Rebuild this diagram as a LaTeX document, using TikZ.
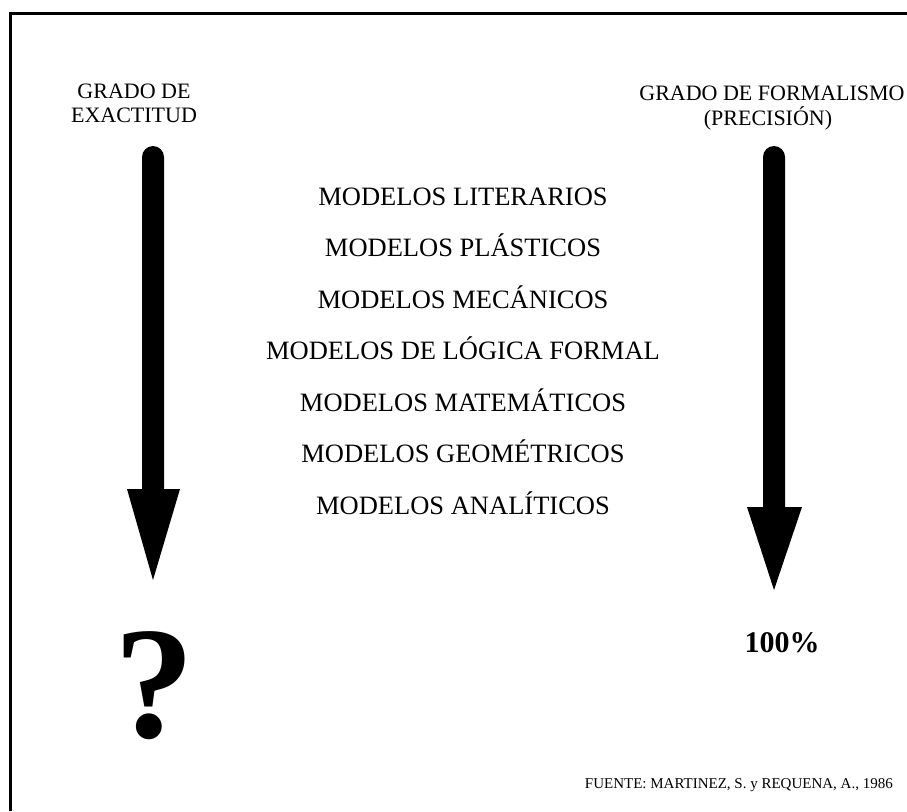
\documentclass[tikz,border=0pt]{standalone}
\usepackage{fontspec}
\setmainfont{Liberation Serif}
\begin{document}
\begin{tikzpicture}[x=1pt,y=-1pt,
  txt/.style={anchor=base,inner sep=0pt,font=\fontsize{26.5}{30}\selectfont},
  head/.style={anchor=base,inner sep=0pt,font=\fontsize{22}{26}\selectfont},
  bigarrow/.style={fill=black,draw=none},
  frameline/.style={line width=3pt}]
\useasboundingbox (0,0) rectangle (907,811);
% frame
\coordinate (fTR) at (907,13);
\coordinate (fTL) at (10,13);
\coordinate (fBL) at (10,811);
\draw[frameline] (fTR) -- (fTL) -- (fBL);
% headings
\node[head] (h1) at (134,98) {GRADO DE};
\node[head] (h2) at (134,122) {EXACTITUD};
\node[head] (h3) at (772,100) {GRADO DE FORMALISMO};
\node[head] (h4) at (768,125) {(PRECISIÓN)};
% arrows
\fill[bigarrow] (142,157) arc[start angle=180,end angle=0,x radius=11,y radius=-11]
  -- (164,489) -- (180,489) -- (153,580) -- (127,489) -- (142,489) -- cycle;
\fill[bigarrow] (763,157) arc[start angle=180,end angle=0,x radius=11,y radius=-11]
  -- (785,507) -- (802,507) -- (774,590) -- (747,507) -- (763,507) -- cycle;
% list
\node[txt] (m1) at (463,205) {MODELOS LITERARIOS};
\node[txt] (m2) at (463,256.5) {MODELOS PLÁSTICOS};
\node[txt] (m3) at (463,308) {MODELOS MECÁNICOS};
\node[txt] (m4) at (463,359.5) {MODELOS DE LÓGICA FORMAL};
\node[txt] (m5) at (463,411) {MODELOS MATEMÁTICOS};
\node[txt] (m6) at (463,462.5) {MODELOS GEOMÉTRICOS};
\node[txt] (m7) at (463,514) {MODELOS ANALÍTICOS};
% bottom
\node[anchor=base,inner sep=0pt,font=\fontsize{160}{160}\selectfont\bfseries] (q) at (154,737) {?};
\node[anchor=base,inner sep=0pt,font=\fontsize{30}{34}\selectfont\bfseries] (p) at (782,652) {100\%};
\node[anchor=base east,inner sep=0pt,font=\fontsize{15}{18}\selectfont] (src) at (893,788) {FUENTE: MARTINEZ, S. y REQUENA, A., 1986};
\end{tikzpicture}
\end{document}
